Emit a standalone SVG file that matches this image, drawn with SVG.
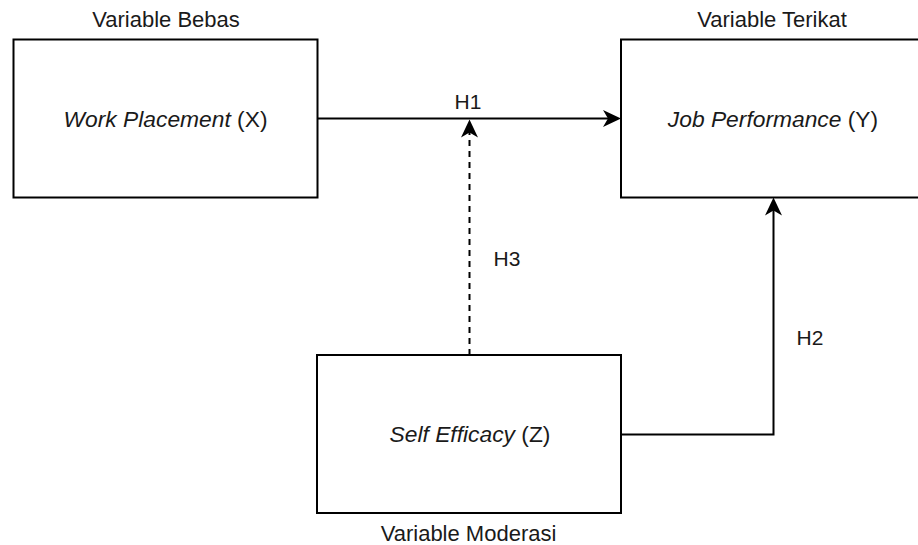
<svg xmlns="http://www.w3.org/2000/svg" width="918" height="545" viewBox="0 0 918 545">
<defs>
<marker id="arr" markerUnits="userSpaceOnUse" markerWidth="24" markerHeight="20" viewBox="-20 -10 24 20" refX="-10" refY="0" orient="auto" overflow="visible">
<path d="M0,0 L-18,-8.5 L-13,0 L-18,8.5 Z" fill="#000"/>
</marker>
<style>
.box{fill:#fff;stroke:#000;stroke-width:2}
.t{font-family:"Liberation Sans",Arial,sans-serif;font-size:22px;fill:#1a1a1a;text-anchor:middle}
.b{font-size:22.8px}
.h{font-family:"Liberation Sans",Arial,sans-serif;font-size:21px;fill:#1a1a1a;text-anchor:middle}
.c{fill:none;stroke:#000;stroke-width:2}
.d{stroke-dasharray:6 5}
</style>
</defs>
<rect width="918" height="545" fill="#fff"/>
<g id="connectors">
<path class="c" d="M317.5,118.5 L611,118.5" marker-end="url(#arr)"/>
<path class="c d" d="M469.5,355 L469.5,129.5" marker-end="url(#arr)"/>
<path class="c" d="M621,434.5 L773.5,434.5 L773.5,207.5" marker-end="url(#arr)"/>
<text class="h" x="468" y="108.5">H1</text>
<text class="h" x="507" y="266">H3</text>
<text class="h" x="810" y="345">H2</text>
</g>
<g id="nodeX">
<rect class="box" x="13.5" y="39.5" width="304" height="158"/>
<text class="t b" x="165.5" y="126.7"><tspan font-style="italic">Work Placement</tspan> (X)</text>
<text class="t" x="166" y="26.7">Variable Bebas</text>
</g>
<g id="nodeY">
<rect class="box" x="621" y="39.5" width="304" height="158"/>
<text class="t b" x="773" y="126.7"><tspan font-style="italic">Job Performance</tspan> (Y)</text>
<text class="t" x="772" y="26.7">Variable Terikat</text>
</g>
<g id="nodeZ">
<rect class="box" x="317" y="355" width="304" height="158"/>
<text class="t b" x="470" y="441.7"><tspan font-style="italic">Self Efficacy</tspan> (Z)</text>
<text class="t" x="468.5" y="541">Variable Moderasi</text>
</g>
</svg>
